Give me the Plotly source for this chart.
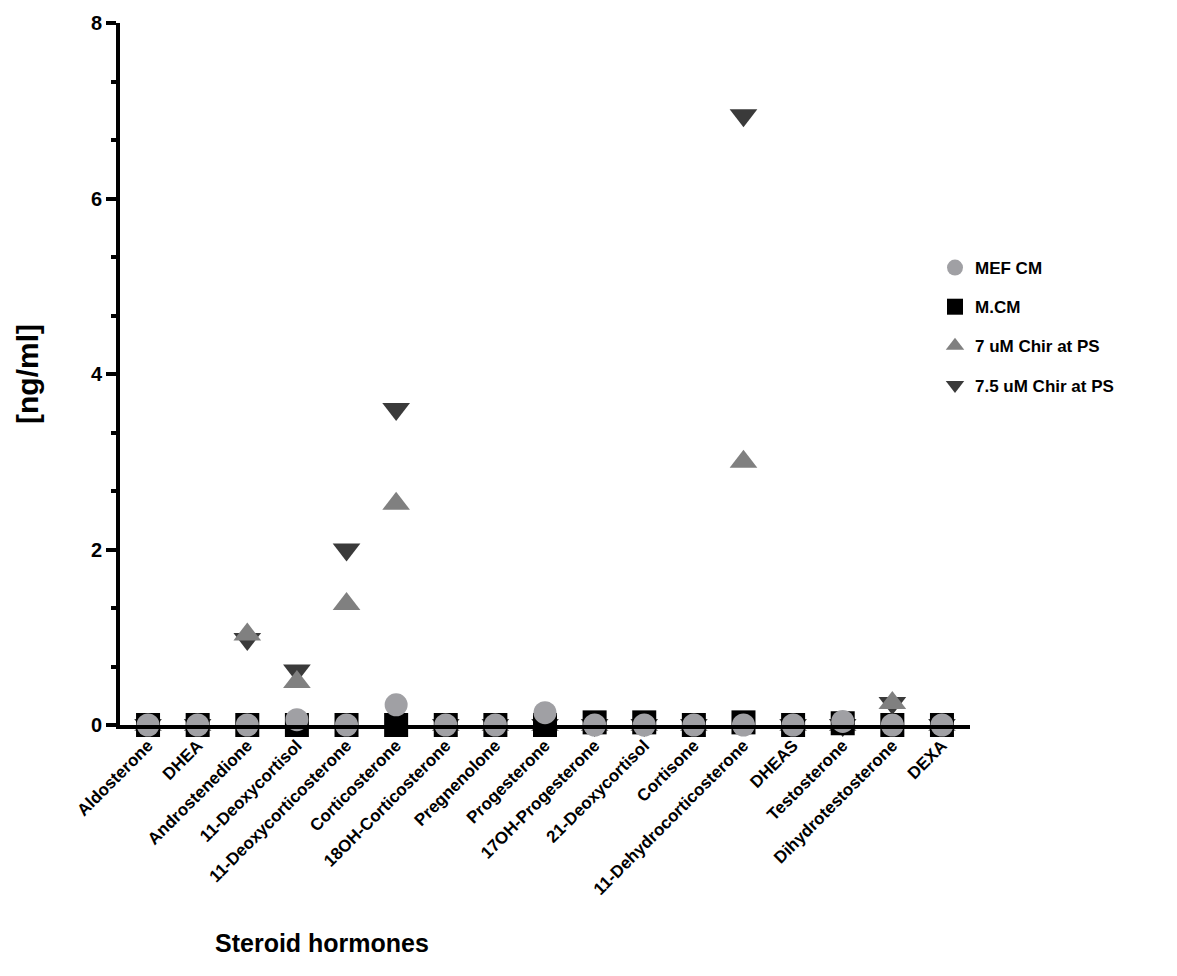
import plotly.graph_objects as go

categories = ["Aldosterone", "DHEA", "Androstenedione", "11-Deoxycortisol",
              "11-Deoxycorticosterone", "Corticosterone", "18OH-Corticosterone",
              "Pregnenolone", "Progesterone", "17OH-Progesterone", "21-Deoxycortisol",
              "Cortisone", "11-Dehydrocorticosterone", "DHEAS", "Testosterone",
              "Dihydrotestosterone", "DEXA"]

mef_cm = [0, 0, 0, 0.06, 0, 0.23, 0, 0, 0.14, 0, 0, 0, 0, 0, 0.04, 0, 0]
m_cm = [0, 0, 0, 0, 0, 0, 0, 0, 0, 0.03, 0.03, 0, 0.03, 0, 0.02, 0, 0]
chir_7 = [0, 0, 1.03, 0.49, 1.38, 2.52, 0, 0, 0, 0, 0, 0, 3.0, 0, 0, 0.25, 0]
chir_75 = [0, 0, 0.98, 0.62, 2.0, 3.6, 0, 0, 0, 0, 0, 0, 6.95, 0, 0, 0.25, 0]

y_ticks = [0, 2, 4, 6, 8]

FONT = "Liberation Sans, Arial, sans-serif"

fig = go.Figure()
fig.add_trace(go.Scatter(x=categories, y=chir_75, mode="markers", name="<b>7.5 uM Chir at PS</b>",
                         legendrank=4, legendgroup="d", cliponaxis=False,
                         marker=dict(symbol="triangle-down", size=24, color="#3a3a3a")))
fig.add_trace(go.Scatter(x=categories, y=chir_7, mode="markers", name="<b>7 uM Chir at PS</b>",
                         legendrank=3, legendgroup="c", cliponaxis=False,
                         marker=dict(symbol="triangle-up", size=24, color="#808080")))
fig.add_trace(go.Scatter(x=categories, y=m_cm, mode="markers", name="<b>M.CM</b>",
                         legendrank=2, legendgroup="b", cliponaxis=False,
                         marker=dict(symbol="square", size=24, color="#000000")))
fig.add_trace(go.Scatter(x=categories, y=mef_cm, mode="markers", name="<b>MEF CM</b>",
                         legendrank=1, legendgroup="a", cliponaxis=False,
                         marker=dict(symbol="circle", size=23, color="#a0a0a4")))

fig.update_layout(
    width=1177, height=976,
    margin=dict(l=120, r=207, t=17, b=251),
    plot_bgcolor="white", paper_bgcolor="white",
    font=dict(family=FONT, color="black"),
    showlegend=True,
    legend=dict(x=(935 - 120) / 850, xanchor="left", y=(725 - 246) / 708, yanchor="top",
                font=dict(family=FONT, size=17, color="black"),
                itemsizing="trace", tracegroupgap=14,
                bgcolor="rgba(0,0,0,0)"),
    xaxis=dict(
        type="category", range=[-0.565, 16.565],
        tickvals=categories, ticktext=["<b>%s</b>" % c for c in categories],
        showline=True, linecolor="black", linewidth=4,
        showgrid=False, zeroline=False, ticks="",
        tickangle=-45,
        tickfont=dict(family=FONT, size=17, color="black"),
    ),
    yaxis=dict(
        range=[0, 8], tickvals=y_ticks, ticktext=["<b>%d</b>" % v for v in y_ticks],
        showline=True, linecolor="black", linewidth=4,
        showgrid=False, zeroline=False,
        ticks="outside", ticklen=10, tickwidth=4, tickcolor="black",
        minor=dict(dtick=2/3, tick0=0, ticks="outside", ticklen=5, tickwidth=4, tickcolor="black"),
        tickfont=dict(family=FONT, size=20, color="black"),
        title=dict(text="<b>[ng/ml]</b>", font=dict(family=FONT, size=30, color="black"), standoff=44),
    ),
)

fig.add_annotation(text="<b>Steroid hormones</b>", xref="paper", yref="paper",
                   x=(322 - 120) / 850, y=-(945 - 725) / 708, showarrow=False,
                   xanchor="center", yanchor="middle",
                   font=dict(family=FONT, size=25, color="black"))

fig.write_html("out.html", post_script="document.body.style.margin='0';",
               config={"displayModeBar": False})
